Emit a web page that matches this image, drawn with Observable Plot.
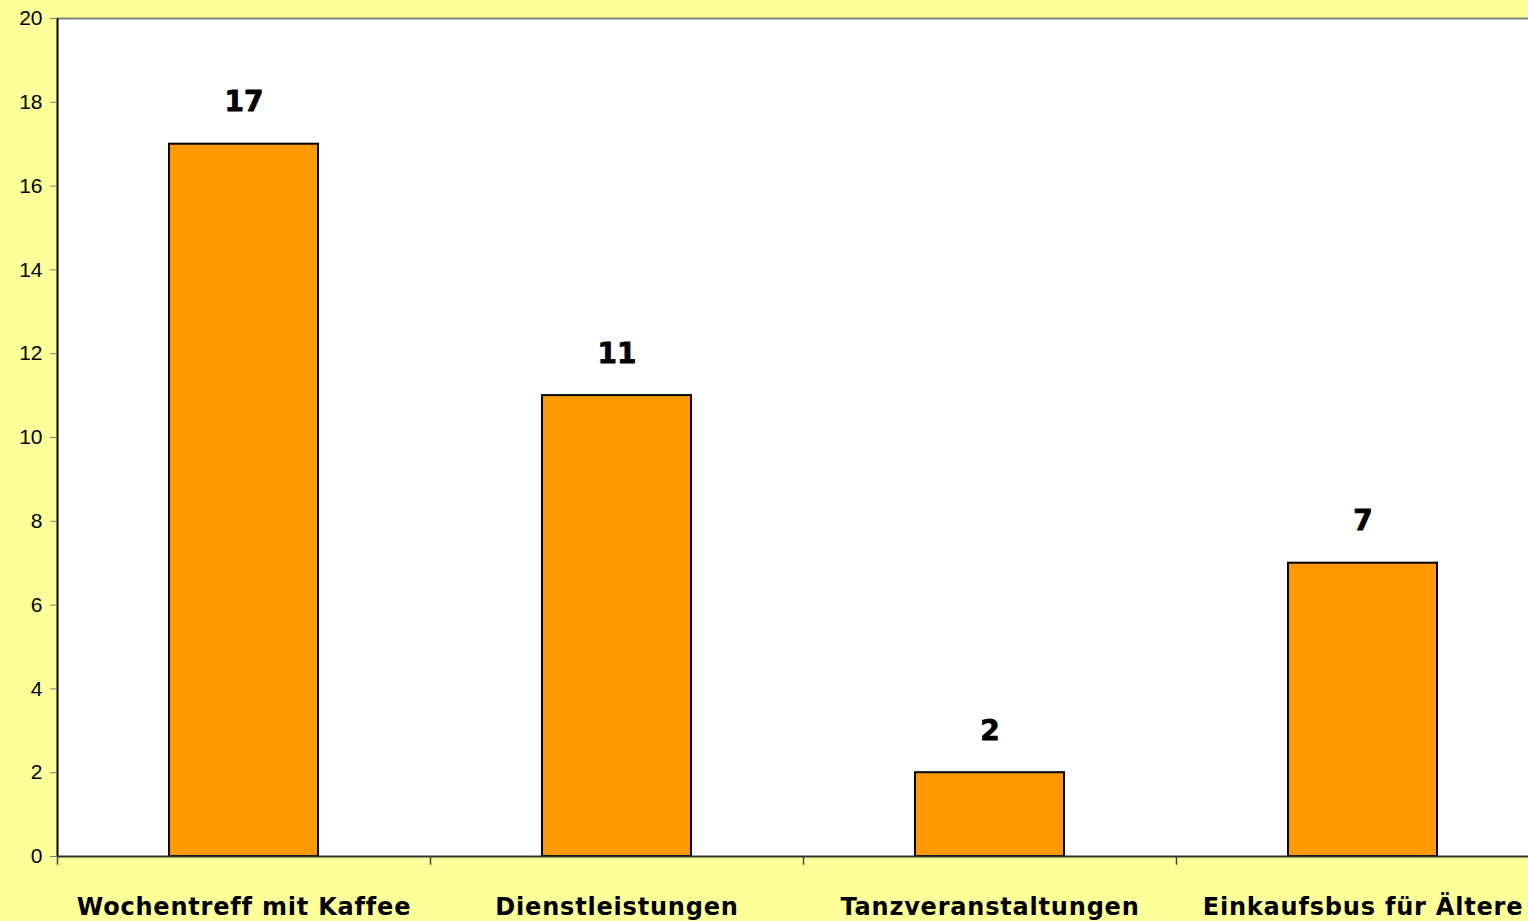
<!DOCTYPE html>
<html>
<head>
<meta charset="utf-8">
<script src="https://cdn.jsdelivr.net/npm/d3@7"></script>
<script src="https://cdn.jsdelivr.net/npm/@observablehq/plot@0.6"></script>
<style>
  html, body { margin: 0; padding: 0; background: #FFFF99; overflow: hidden; }
  #chart svg { display: block; }
  #chart g[aria-label="x-axis tick label"] text { letter-spacing: 0.8px; }
</style>
</head>
<body>
<div id="chart"></div>
<script>
const categories = ["Wochentreff mit Kaffee", "Dienstleistungen", "Tanzveranstaltungen", "Einkaufsbus für Ältere"];
const values = [17, 11, 2, 7];
const yTicks = [0, 2, 4, 6, 8, 10, 12, 14, 16, 18, 20];

const data = categories.map((c, i) => ({category: c, value: values[i]}));
const step = 373;
const heavy = "'DejaVu Sans', 'Liberation Sans', sans-serif";

const chart = Plot.plot({
  width: 1528,
  height: 921,
  marginLeft: 57,
  marginRight: 0,
  marginTop: 18,
  marginBottom: 65,
  style: {background: "#FFFF99", fontFamily: "'Liberation Sans', Arial, sans-serif", color: "black"},
  x: {domain: categories, range: [57, 57 + step * categories.length], paddingInner: 0.6, paddingOuter: 0.3, label: null},
  y: {domain: [0, 20], label: null},
  marks: [
    Plot.frame({fill: "white", stroke: null}),
    Plot.ruleY([20], {stroke: "#808080", strokeWidth: 2}),
    Plot.barY(data, {x: "category", y: "value", fill: "#FF9900", stroke: "black", strokeWidth: 2}),
    Plot.ruleY([0], {stroke: "#333", strokeWidth: 2}),
    Plot.ruleX([categories[0]], {x: d => d, y1: 0, y2: 20, dx: -step / 2, stroke: "black", strokeWidth: 2}),
    Plot.ruleX(categories, {x: d => d, y1: -0.21, y2: 0, dx: -step / 2, stroke: "#444", strokeWidth: 1.5}),
    Plot.axisY({ticks: yTicks, tickSize: 7, tickPadding: 8, stroke: "#808080", fill: "black", fontSize: 21, tickFormat: d => String(d)}),
    Plot.axisX({tickSize: 0, tickPadding: 41, fontSize: 24, fontWeight: "bold", fontFamily: heavy, fill: "black", stroke: "black", strokeWidth: 1.1}),
    Plot.text(data, {x: "category", y: "value", text: d => String(d.value), dy: -42, fontSize: 28, fontWeight: "bold", fontFamily: heavy, fill: "black", stroke: "black", strokeWidth: 0.8})
  ]
});
document.getElementById("chart").appendChild(chart);
</script>
</body>
</html>
